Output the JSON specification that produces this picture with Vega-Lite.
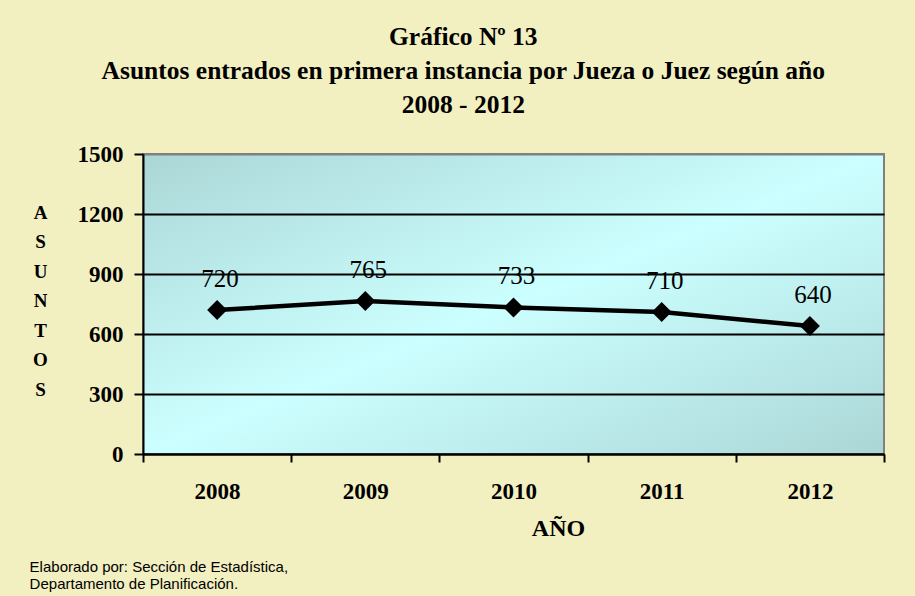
{
  "$schema": "https://vega.github.io/schema/vega-lite/v6.json",
  "background": "#f2efc1",
  "padding": {"left": 28, "top": 24, "right": 31, "bottom": 8},
  "title": {
    "text": ["Gráfico Nº 13", "Asuntos entrados en primera instancia por Jueza o Juez según año", "2008 - 2012"],
    "font": "Liberation Serif",
    "fontSize": 25.5,
    "fontWeight": "bold",
    "lineHeight": 34,
    "color": "black",
    "anchor": "middle",
    "frame": "bounds",
    "offset": 24,
    "dx": 6
  },
  "vconcat": [
    {
      "width": 741,
      "height": 300,
      "title": {
        "text": ["Elaborado por: Sección de Estadística,", "Departamento de Planificación."],
        "orient": "bottom",
        "anchor": "start",
        "frame": "bounds",
        "font": "Liberation Sans",
        "fontSize": 15,
        "fontWeight": "normal",
        "lineHeight": 17,
        "color": "black",
        "offset": 20,
        "dx": -3
      },
      "data": {
        "values": [
          {"year": 2008, "value": 720},
          {"year": 2009, "value": 765},
          {"year": 2010, "value": 733},
          {"year": 2011, "value": 710},
          {"year": 2012, "value": 640}
        ]
      },
      "encoding": {
        "x": {
          "field": "year",
          "type": "quantitative",
          "scale": {"domain": [2007.5, 2012.5], "nice": false, "zero": false},
          "axis": {
            "title": "AÑO",
            "values": [2007.5, 2008, 2008.5, 2009, 2009.5, 2010, 2010.5, 2011, 2011.5, 2012, 2012.5],
            "labelExpr": "datum.value % 1 == 0 ? format(datum.value, 'd') : ''",
            "labelOverlap": false,
            "labelFlush": false,
            "labelBound": false,
            "labelFont": "Liberation Serif",
            "labelFontSize": 23,
            "labelFontWeight": "bold",
            "labelColor": "black",
            "labelPadding": 18,
            "tickSize": 8,
            "tickWidth": 2,
            "tickColor": "black",
            "tickOpacity": {"condition": {"test": "datum.value % 1 == 0", "value": 0}, "value": 1},
            "domainColor": "black",
            "domainWidth": 2,
            "grid": false,
            "titleFont": "Liberation Serif",
            "titleFontSize": 24,
            "titleFontWeight": "bold",
            "titleColor": "black",
            "titlePadding": 13,
            "titleX": 415
          }
        },
        "y": {
          "field": "value",
          "type": "quantitative",
          "scale": {"domain": [0, 1500], "nice": false},
          "axis": {
            "title": ["A", "S", "U", "N", "T", "O", "S"],
            "titleAngle": 0,
            "titleAlign": "center",
            "titleBaseline": "middle",
            "titleLineHeight": 29.5,
            "titleX": -103,
            "titleY": 58,
            "titleFont": "Liberation Serif",
            "titleFontSize": 19,
            "titleFontWeight": "bold",
            "titleColor": "black",
            "values": [0, 300, 600, 900, 1200, 1500],
            "format": "d",
            "labelFont": "Liberation Serif",
            "labelFontSize": 23,
            "labelFontWeight": "bold",
            "labelColor": "black",
            "labelPadding": 11,
            "tickSize": 9,
            "tickWidth": 2,
            "tickColor": "black",
            "domainColor": "black",
            "domainWidth": 2,
            "grid": true,
            "gridWidth": 2,
            "gridOpacity": 1,
            "gridColor": {"condition": {"test": "datum.value == 1500", "value": "#808080"}, "value": "black"}
          }
        }
      },
      "layer": [
        {"mark": {"type": "line", "color": "black", "strokeWidth": 4.5}},
        {"mark": {"type": "point", "shape": "diamond", "filled": true, "color": "black", "opacity": 1, "size": 400}},
        {
          "mark": {"type": "text", "font": "Liberation Serif", "fontSize": 25, "color": "black", "dy": -31, "dx": 3, "baseline": "middle"},
          "encoding": {"text": {"field": "value", "type": "quantitative"}}
        }
      ]
    }
  ],
  "config": {
    "view": {
      "stroke": "#808080",
      "strokeWidth": 2,
      "fill": {
        "gradient": "linear",
        "x1": 0, "y1": 0, "x2": 1, "y2": 1,
        "stops": [
          {"offset": 0, "color": "#abd6d6"},
          {"offset": 0.5, "color": "#ccffff"},
          {"offset": 1, "color": "#abd6d6"}
        ]
      }
    }
  }
}
